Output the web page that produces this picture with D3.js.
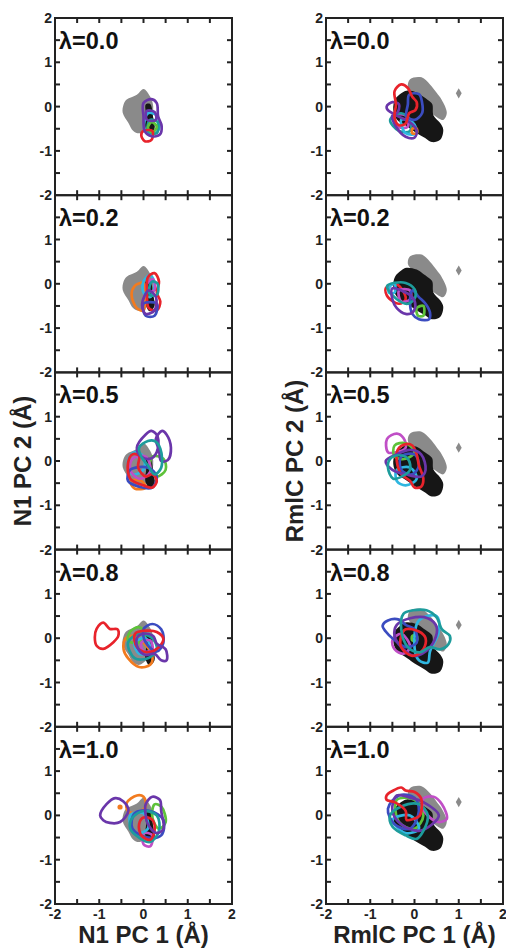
<!DOCTYPE html>
<html>
<head>
<meta charset="utf-8">
<script src="https://cdn.jsdelivr.net/npm/d3@7"></script>
<style>
  body { margin: 0; background: #fff; }
  svg { font-family: "Liberation Sans", Arial, sans-serif; font-weight: bold; }
  .tick-label { font-size: 14px; fill: #222; }
  .lam { font-size: 23.5px; fill: #111; }
  .axis-title { font-size: 24px; fill: #222; }
</style>
</head>
<body>
<svg width="506" height="948"></svg>
<script>
  const lambdas = ['0.0', '0.2', '0.5', '0.8', '1.0'];
  const tickValues = [-2, -1, 0, 1, 2];
  const minorTicks = [-1.5, -1, -0.5, 0, 0.5, 1, 1.5];

  const palette = {
    red: '#e8232b', blue: '#3b4cc0', purple: '#6a36aa', cyan: '#2fb6e0',
    teal: '#1d9c9c', green: '#5ec23a', orange: '#f27b1f', magenta: '#c04fc6'
  };

  // reference regions (grey = one state, black = other state)
  const n1Gray = [[-0.45,0.05],[-0.38,0.16],[-0.15,0.27],[0,0.4],[0.15,0.23],[0.22,0],[0.15,-0.37],[-0.08,-0.6],[-0.23,-0.55],[-0.34,-0.37],[-0.47,-0.14]];
  const n1Black = [[0.05,0.05],[0.15,0.06],[0.22,-0.25],[0.25,-0.5],[0.14,-0.62],[0.04,-0.45],[0.06,-0.2]];
  const rmlcGray = [[-0.1,0.62],[0.16,0.66],[0.35,0.5],[0.5,0.31],[0.61,0.16],[0.73,-0.14],[0.65,-0.3],[0.45,-0.2],[0.2,0.0],[-0.05,0.3],[-0.15,0.45]];
  const rmlcBlack = [[-0.44,0.16],[-0.3,0.3],[-0.18,0.36],[0.05,0.32],[0.2,0.22],[0.3,0.15],[0.4,0.06],[0.43,-0.2],[0.58,-0.37],[0.65,-0.52],[0.58,-0.75],[0.39,-0.8],[0.24,-0.71],[0.05,-0.6],[-0.18,-0.44],[-0.4,-0.29],[-0.48,-0.07]];
  const rmlcDiamond = [1.0, 0.3];

  // N1 contours, one list per lambda
  const n1_00 = [
    ['cyan', [[0.1,-0.15],[0.3,-0.2],[0.35,-0.5],[0.2,-0.62],[0.02,-0.5]]],
    ['teal', [[0.15,-0.3],[0.32,-0.35],[0.3,-0.6],[0.1,-0.55]]],
    ['green', [[0.18,-0.35],[0.3,-0.45],[0.2,-0.58],[0.1,-0.48]]],
    ['red', [[0.0,-0.55],[0.2,-0.55],[0.18,-0.75],[0.03,-0.78],[-0.05,-0.65]]],
    ['purple', [[0,0.08],[0.18,0.17],[0.3,0.08],[0.33,-0.22],[0.41,-0.44],[0.37,-0.63],[0.18,-0.67],[0.03,-0.56],[0,-0.22]]],
    ['purple', [[0.07,-0.1],[0.25,-0.12],[0.28,-0.3],[0.08,-0.3]]]
  ];
  const n1_02 = [
    ['orange', [[-0.12,0.0],[0.0,0.02],[0.05,-0.3],[0.0,-0.6],[-0.15,-0.55],[-0.27,-0.25],[-0.2,-0.05]]],
    ['cyan', [[0.0,0.05],[0.15,0.2],[0.25,0.0],[0.15,-0.3],[0.0,-0.2]]],
    ['magenta', [[0.08,0.0],[0.22,0.1],[0.25,-0.15],[0.1,-0.15]]],
    ['red', [[0.1,0.15],[0.25,0.24],[0.35,0.05],[0.3,-0.2],[0.38,-0.4],[0.3,-0.6],[0.12,-0.55],[0.08,-0.2]]],
    ['teal', [[0.2,0.05],[0.32,0.0],[0.3,-0.25],[0.15,-0.25],[0.13,-0.1]]],
    ['blue', [[0.0,-0.45],[0.3,-0.45],[0.25,-0.72],[0.05,-0.72]]],
    ['purple', [[0.12,-0.15],[0.28,-0.3],[0.25,-0.6],[0.05,-0.68],[-0.03,-0.5],[0.02,-0.28]]]
  ];
  const n1_05 = [
    ['orange', [[-0.3,-0.45],[-0.05,-0.45],[0.05,-0.6],[-0.2,-0.62]]],
    ['cyan', [[-0.35,0.0],[-0.2,0.2],[0.0,0.1],[0.0,-0.2],[-0.25,-0.3]]],
    ['green', [[0.2,0.1],[0.45,0.05],[0.5,-0.2],[0.3,-0.35],[0.15,-0.15]]],
    ['magenta', [[-0.25,0.05],[0.05,0.1],[0.15,-0.25],[-0.1,-0.4],[-0.3,-0.2]]],
    ['blue', [[-0.3,-0.2],[0.1,-0.15],[0.3,-0.35],[0.2,-0.6],[-0.1,-0.58],[-0.35,-0.45]]],
    ['red', [[-0.35,-0.05],[-0.25,0.15],[-0.1,0.12],[-0.12,-0.15],[0.05,-0.35],[0.2,-0.3],[0.3,-0.45],[0.2,-0.6],[0.0,-0.55],[-0.3,-0.4]]],
    ['purple', [[-0.15,0.3],[0.05,0.6],[0.18,0.68],[0.32,0.55],[0.3,0.2],[0.15,0.05],[-0.05,0.1]]],
    ['purple', [[0.28,0.5],[0.42,0.68],[0.52,0.6],[0.62,0.3],[0.55,0.02],[0.4,0.0],[0.35,0.25]]],
    ['teal', [[-0.1,0.3],[0.1,0.45],[0.25,0.45],[0.38,0.28],[0.4,-0.15],[0.25,-0.3],[0.1,-0.1],[-0.05,0.1]]]
  ];
  const n1_08 = [
    ['orange', [[-0.4,0.0],[-0.45,-0.25],[-0.35,-0.45],[-0.1,-0.65],[0.15,-0.6],[0.2,-0.4],[0.0,-0.1],[-0.2,0.05]]],
    ['green', [[-0.3,0.15],[-0.1,0.25],[0.05,0.1],[-0.1,-0.1],[-0.35,-0.05]]],
    ['teal', [[-0.35,-0.1],[-0.1,0.1],[0.2,0.0],[0.3,-0.25],[0.1,-0.45],[-0.2,-0.45]]],
    ['cyan', [[-0.2,-0.1],[0.05,0.0],[0.15,-0.3],[-0.1,-0.35]]],
    ['magenta', [[-0.05,-0.1],[0.15,-0.05],[0.2,-0.25],[0.0,-0.3]]],
    ['blue', [[0.0,0.2],[0.2,0.32],[0.4,0.2],[0.45,-0.1],[0.3,-0.3],[0.05,-0.1]]],
    ['red', [[-0.19,0.1],[0.07,0.17],[0.3,0.14],[0.45,-0.02],[0.3,-0.24],[0.07,-0.32],[-0.15,-0.2]]],
    ['red', [[-1.06,0.21],[-0.91,0.35],[-0.76,0.21],[-0.59,0.2],[-0.57,0.05],[-0.68,-0.09],[-0.91,-0.24],[-1.06,-0.17],[-1.1,0.02]]],
    ['purple', [[-0.15,0.0],[0.0,0.1],[0.22,0.05],[0.3,-0.12],[0.5,-0.25],[0.52,-0.5],[0.4,-0.5],[0.25,-0.35],[0.05,-0.38],[-0.12,-0.24]]]
  ];
  const n1_10 = [
    ['orange', [[-0.38,0.28],[-0.15,0.45],[0.0,0.42],[0.05,0.2],[-0.15,0.05],[-0.35,0.1]]],
    ['green', [[0.25,0.25],[0.4,0.2],[0.5,-0.15],[0.35,-0.3],[0.2,-0.05]]],
    ['magenta', [[0.0,-0.4],[0.2,-0.45],[0.15,-0.7],[0.0,-0.65]]],
    ['cyan', [[-0.3,0.0],[0.0,0.05],[0.1,-0.3],[-0.2,-0.4]]],
    ['blue', [[-0.2,0.05],[0.15,0.1],[0.45,-0.1],[0.4,-0.45],[0.1,-0.5],[-0.25,-0.3]]],
    ['teal', [[-0.25,-0.05],[0.0,0.1],[0.3,0.0],[0.35,-0.35],[0.15,-0.6],[-0.1,-0.5],[-0.3,-0.3]]],
    ['red', [[0.0,-0.05],[0.2,-0.1],[0.25,-0.35],[0.15,-0.55],[-0.05,-0.45],[-0.1,-0.2]]],
    ['purple', [[0.05,0.25],[0.2,0.42],[0.37,0.35],[0.4,0.1],[0.45,-0.3],[0.3,-0.4],[0.1,-0.2],[0.05,0.0]]],
    ['purple', [[-0.98,0],[-0.83,0.26],[-0.64,0.39],[-0.46,0.32],[-0.34,0.11],[-0.53,-0.15],[-0.76,-0.17],[-0.91,-0.11]]]
  ];
  const n1Dots = [[], [], [], [], [['orange', -0.53, 0.19]]];

  // RmlC contours
  const rmlc_00 = [
    ['magenta', [[-0.45,-0.2],[-0.2,-0.2],[-0.15,-0.45],[-0.4,-0.45]]],
    ['teal', [[-0.55,-0.3],[-0.3,-0.15],[-0.1,-0.3],[-0.1,-0.55],[-0.35,-0.55]]],
    ['cyan', [[-0.3,-0.3],[-0.05,-0.35],[0.05,-0.6],[-0.2,-0.6]]],
    ['orange', [[-0.05,-0.5],[0.05,-0.5],[0.05,-0.6],[-0.05,-0.6]]],
    ['blue', [[-0.12,0.27],[0.1,0.28],[0.17,0.1],[0.17,-0.15],[0.0,-0.3],[-0.18,-0.22],[-0.15,0.05]]],
    ['purple', [[-0.63,0.0],[-0.5,0.1],[-0.35,0.05],[-0.4,-0.15],[-0.55,-0.12]]],
    ['purple', [[-0.5,-0.2],[-0.3,-0.25],[-0.05,-0.4],[0.05,-0.55],[0.0,-0.7],[-0.2,-0.68],[-0.42,-0.45]]],
    ['red', [[-0.45,0.35],[-0.3,0.5],[-0.15,0.42],[-0.05,0.22],[0.05,0.1],[0.02,-0.08],[-0.12,-0.15],[-0.2,-0.38],[-0.35,-0.42],[-0.45,-0.25],[-0.42,0.05]]]
  ];
  const rmlc_02 = [
    ['red', [[-0.65,-0.1],[-0.45,0.0],[-0.3,-0.1],[-0.2,-0.35],[-0.35,-0.45],[-0.6,-0.3]]],
    ['cyan', [[-0.55,-0.05],[-0.45,0.0],[-0.45,-0.2],[-0.58,-0.2]]],
    ['green', [[0.05,-0.55],[0.2,-0.5],[0.2,-0.72],[0.08,-0.72]]],
    ['magenta', [[-0.35,-0.15],[-0.1,-0.15],[-0.1,-0.35],[-0.3,-0.4]]],
    ['blue', [[-0.05,-0.15],[0.1,-0.3],[0.25,-0.45],[0.35,-0.65],[0.33,-0.8],[0.1,-0.8],[-0.05,-0.68],[-0.1,-0.4]]],
    ['teal', [[-0.62,-0.05],[-0.45,0.02],[-0.2,0.02],[0.0,-0.12],[0.02,-0.3],[-0.15,-0.45],[-0.4,-0.35]]],
    ['purple', [[-0.5,-0.1],[-0.3,-0.15],[-0.05,-0.3],[0.02,-0.5],[-0.05,-0.65],[-0.2,-0.68],[-0.4,-0.55],[-0.5,-0.35]]]
  ];
  const rmlc_05 = [
    ['magenta', [[-0.62,0.5],[-0.4,0.62],[-0.25,0.52],[-0.2,0.3],[-0.4,0.2],[-0.6,0.2]]],
    ['green', [[-0.45,0.35],[-0.2,0.4],[0.0,0.2],[-0.2,0.05],[-0.45,0.1]]],
    ['cyan', [[-0.4,-0.2],[-0.1,-0.15],[0.05,-0.4],[-0.2,-0.55],[-0.4,-0.45]]],
    ['blue', [[-0.3,0.1],[0.0,0.15],[0.1,-0.1],[-0.05,-0.3],[-0.3,-0.2]]],
    ['red', [[-0.38,0.25],[-0.2,0.38],[-0.05,0.35],[0.05,0.15],[0.1,-0.1],[0.2,-0.4],[0.15,-0.58],[0.0,-0.6],[-0.1,-0.45],[-0.3,-0.3],[-0.4,0.0]]],
    ['purple', [[-0.65,0.0],[-0.4,0.15],[-0.1,0.25],[0.15,0.15],[0.25,-0.2],[0.15,-0.35],[-0.2,-0.3],[-0.5,-0.2]]],
    ['teal', [[-0.6,-0.15],[-0.55,0.05],[-0.35,0.13],[-0.15,0.05],[-0.1,-0.2],[-0.25,-0.33],[-0.48,-0.4]]]
  ];
  const rmlc_08 = [
    ['green', [[-0.05,0.05],[0.05,0.05],[0.05,-0.05],[-0.05,-0.05]]],
    ['magenta', [[-0.5,-0.05],[-0.3,0.1],[-0.1,-0.2],[-0.25,-0.35],[-0.45,-0.25]]],
    ['cyan', [[0.1,0.4],[0.5,0.5],[0.55,0.15],[0.35,-0.3],[0.3,-0.55],[0.1,-0.5],[0.0,-0.2]]],
    ['blue', [[-0.72,0.28],[-0.6,0.4],[-0.35,0.42],[-0.2,0.3],[0.0,0.2],[0.05,-0.1],[-0.2,-0.2],[-0.5,0.0],[-0.65,0.15]]],
    ['purple', [[-0.4,0.3],[-0.1,0.45],[0.3,0.45],[0.5,0.25],[0.45,-0.05],[0.25,-0.3],[0.0,-0.4],[-0.3,-0.2],[-0.45,0.05]]],
    ['red', [[-0.3,0.05],[-0.2,0.2],[0.1,0.15],[0.25,0.0],[0.2,-0.25],[-0.05,-0.4],[-0.3,-0.2]]],
    ['teal', [[-0.25,0.55],[-0.03,0.63],[0.27,0.63],[0.5,0.47],[0.62,0.2],[0.8,0.05],[0.77,-0.13],[0.58,-0.25],[0.35,-0.2],[0.12,-0.32],[-0.15,-0.2],[-0.3,0.2]]]
  ];
  const rmlc_10 = [
    ['green', [[-0.4,0.35],[0.0,0.35],[0.2,0.0],[0.0,-0.3],[-0.35,-0.15]]],
    ['magenta', [[0.2,0.38],[0.43,0.42],[0.62,0.25],[0.73,-0.08],[0.55,-0.15],[0.35,-0.05],[0.2,0.15]]],
    ['cyan', [[-0.5,-0.1],[-0.1,0.0],[0.1,-0.3],[-0.2,-0.4]]],
    ['blue', [[-0.6,0.15],[-0.35,0.45],[0.0,0.4],[0.1,0.1],[-0.1,-0.3],[-0.45,-0.2]]],
    ['purple', [[-0.4,0.45],[-0.1,0.4],[0.2,0.3],[0.55,0.0],[0.4,-0.2],[0.1,-0.35],[-0.3,-0.2],[-0.5,0.1]]],
    ['teal', [[-0.55,0.0],[-0.3,0.2],[0.1,0.25],[0.3,0.0],[0.2,-0.35],[0.05,-0.53],[-0.2,-0.45],[-0.5,-0.25]]],
    ['red', [[-0.63,0.45],[-0.5,0.55],[-0.3,0.63],[-0.2,0.56],[0.0,0.53],[0.15,0.38],[0.12,0.0],[-0.03,-0.08],[-0.18,-0.1],[-0.2,0.1],[-0.45,0.3],[-0.63,0.35]]]
  ];

  const n1Panels = [n1_00, n1_02, n1_05, n1_08, n1_10];
  const rmlcPanels = [rmlc_00, rmlc_02, rmlc_05, rmlc_08, rmlc_10];

  const svg = d3.select('svg');
  const panelW = 177, panelH = 177.2, top0 = 18;
  const columns = [
    { x0: 55, panels: n1Panels, gray: n1Gray, black: n1Black, diamond: null, dots: n1Dots,
      xTitle: 'N1 PC 1 (Å)', yTitle: 'N1 PC 2 (Å)', yTitleX: 31 },
    { x0: 326, panels: rmlcPanels, gray: rmlcGray, black: rmlcBlack, diamond: rmlcDiamond, dots: [[], [], [], [], []],
      xTitle: 'RmlC PC 1 (Å)', yTitle: 'RmlC PC 2 (Å)', yTitleX: 303 }
  ];

  const xScale = d3.scaleLinear().domain([-2, 2]).range([0, panelW]);
  const yScale = d3.scaleLinear().domain([-2, 2]).range([panelH, 0]);
  const line = d3.line()
    .x(d => xScale(d[0]))
    .y(d => yScale(d[1]))
    .curve(d3.curveCatmullRomClosed.alpha(0.5));

  columns.forEach((col, ci) => {
    col.panels.forEach((contours, pi) => {
      const g = svg.append('g')
        .attr('transform', `translate(${col.x0},${top0 + pi * panelH})`);

      const clipId = `clip-${ci}-${pi}`;
      g.append('clipPath').attr('id', clipId)
        .append('rect').attr('width', panelW).attr('height', panelH);

      const plot = g.append('g').attr('clip-path', `url(#${clipId})`);

      plot.append('path').attr('d', line(col.gray)).attr('fill', '#8a8a8a');
      plot.append('path').attr('d', line(col.black)).attr('fill', '#161616');
      if (col.diamond) {
        plot.append('path')
          .attr('d', d3.symbol(d3.symbolDiamond, 30)())
          .attr('transform', `translate(${xScale(col.diamond[0])},${yScale(col.diamond[1])})`)
          .attr('fill', '#8a8a8a');
      }

      plot.selectAll('path.contour').data(contours)
        .enter().append('path')
          .attr('class', 'contour')
          .attr('d', d => line(d[1]))
          .attr('fill', 'none')
          .attr('stroke', d => palette[d[0]])
          .attr('stroke-width', 2.7)
          .attr('stroke-linejoin', 'round');

      plot.selectAll('circle').data(col.dots[pi])
        .enter().append('circle')
          .attr('cx', d => xScale(d[1]))
          .attr('cy', d => yScale(d[2]))
          .attr('r', 2.6)
          .attr('fill', d => palette[d[0]]);

      // inward ticks on all four sides
      const tk = 5;
      minorTicks.forEach(t => {
        const x = xScale(t), y = yScale(t);
        g.append('line').attr('x1', x).attr('x2', x).attr('y1', 0).attr('y2', tk);
        g.append('line').attr('x1', x).attr('x2', x).attr('y1', panelH).attr('y2', panelH - tk);
        g.append('line').attr('y1', y).attr('y2', y).attr('x1', 0).attr('x2', tk);
        g.append('line').attr('y1', y).attr('y2', y).attr('x1', panelW).attr('x2', panelW - tk);
      });
      g.selectAll('line').attr('stroke', '#222').attr('stroke-width', 2);

      g.append('rect')
        .attr('width', panelW).attr('height', panelH)
        .attr('fill', 'none').attr('stroke', '#222').attr('stroke-width', 2);

      // the top "2" of lower panels sits under the "-2" of the panel above
      const yLabels = pi === 0 ? tickValues : tickValues.filter(v => v !== 2);
      g.selectAll('text.ytick').data(yLabels)
        .enter().append('text')
          .attr('class', 'tick-label')
          .attr('x', -3)
          .attr('y', d => yScale(d))
          .attr('dy', '0.36em')
          .attr('text-anchor', 'end')
          .text(d => d);

      if (pi === col.panels.length - 1) {
        g.selectAll('text.xtick').data(tickValues)
          .enter().append('text')
            .attr('class', 'tick-label')
            .attr('x', d => xScale(d))
            .attr('y', panelH + 15)
            .attr('text-anchor', 'middle')
            .text(d => d);
      }

      g.append('text')
        .attr('class', 'lam')
        .attr('x', 4)
        .attr('y', 31)
        .text('λ=' + lambdas[pi]);
    });

    svg.append('text')
      .attr('class', 'axis-title')
      .attr('x', col.x0 + panelW / 2)
      .attr('y', 943)
      .attr('text-anchor', 'middle')
      .text(col.xTitle);

    svg.append('text')
      .attr('class', 'axis-title')
      .attr('transform', `translate(${col.yTitleX},${top0 + panelH * 2.5}) rotate(-90)`)
      .attr('text-anchor', 'middle')
      .text(col.yTitle);
  });
</script>
</body>
</html>
